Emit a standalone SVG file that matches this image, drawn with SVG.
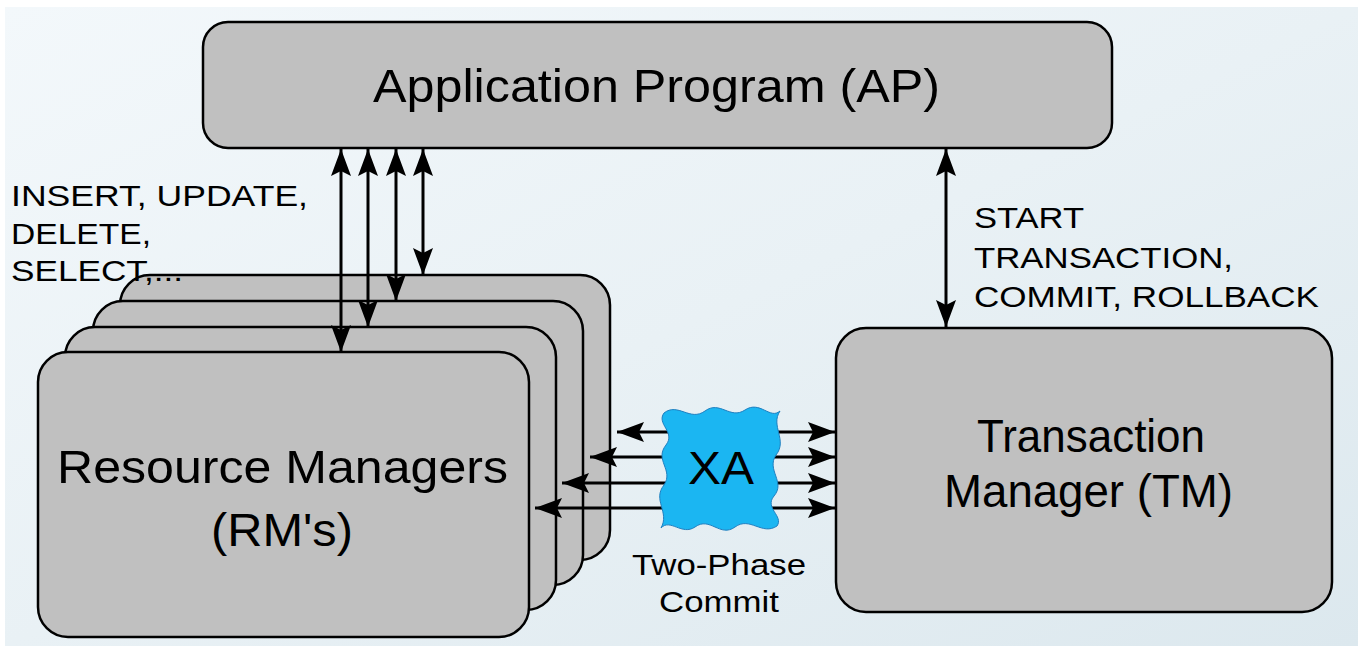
<svg xmlns="http://www.w3.org/2000/svg" width="1358" height="646" viewBox="0 0 1358 646">
<defs>
<linearGradient id="bg" x1="0" y1="0" x2="1" y2="1">
<stop offset="0" stop-color="#F3F8FB"/>
<stop offset="0.5" stop-color="#E9F1F5"/>
<stop offset="1" stop-color="#DCE8EE"/>
</linearGradient>
<marker id="ah" markerUnits="userSpaceOnUse" markerWidth="28" markerHeight="22" viewBox="0 0 28 22" refX="27" refY="11" orient="auto-start-reverse">
<path d="M0,1 L27,11 L0,21 L5,11 Z" fill="#000"/>
</marker>
<style>
.box{fill:#C0C0C0;stroke:#000;stroke-width:2.5}
.big{font-family:"Liberation Sans",Arial,sans-serif;font-size:46px;fill:#000}
.lbl{font-family:"Liberation Sans",Arial,sans-serif;font-size:30px;fill:#000}
.c{stroke:#000;stroke-width:3;fill:none;marker-start:url(#ah);marker-end:url(#ah)}
</style>
</defs>
<rect width="1358" height="646" fill="#FFFFFF"/>
<rect x="5" y="7" width="1353" height="639" fill="url(#bg)"/>

<g id="ap">
<rect class="box" x="203" y="22" width="909" height="126" rx="25"/>
<text class="big" x="373" y="102" textLength="567" lengthAdjust="spacingAndGlyphs">Application Program (AP)</text>
</g>

<g id="rm">
<rect class="box" x="120" y="275" width="490" height="285" rx="30"/>
<rect class="box" x="93" y="301" width="490" height="284" rx="30"/>
<rect class="box" x="65" y="327" width="491" height="283" rx="30"/>
<rect class="box" x="38" y="352" width="491" height="285" rx="30"/>
<text class="big" x="57" y="483" font-size="44" textLength="451" lengthAdjust="spacingAndGlyphs">Resource Managers</text>
<text class="big" x="211" y="546" font-size="44" textLength="142" lengthAdjust="spacingAndGlyphs">(RM's)</text>
</g>

<g id="tm">
<rect class="box" x="836" y="328" width="496" height="284" rx="30"/>
<text class="big" x="977" y="452" textLength="228" lengthAdjust="spacingAndGlyphs">Transaction</text>
<text class="big" x="944" y="507" textLength="289" lengthAdjust="spacingAndGlyphs">Manager (TM)</text>
</g>

<g id="labels">
<text class="lbl" x="11" y="206" textLength="297" lengthAdjust="spacingAndGlyphs">INSERT, UPDATE,</text>
<text class="lbl" x="11" y="244" textLength="140" lengthAdjust="spacingAndGlyphs">DELETE,</text>
<text class="lbl" x="11" y="281" textLength="172" lengthAdjust="spacingAndGlyphs">SELECT,...</text>
<text class="lbl" x="974" y="228" textLength="110" lengthAdjust="spacingAndGlyphs">START</text>
<text class="lbl" x="974" y="268" textLength="259" lengthAdjust="spacingAndGlyphs">TRANSACTION,</text>
<text class="lbl" x="974" y="307" textLength="345" lengthAdjust="spacingAndGlyphs">COMMIT, ROLLBACK</text>
<text class="lbl" x="632" y="575" textLength="174" lengthAdjust="spacingAndGlyphs">Two-Phase</text>
<text class="lbl" x="659" y="612" textLength="120" lengthAdjust="spacingAndGlyphs">Commit</text>
</g>

<g id="connectors">
<line class="c" x1="341" y1="149" x2="341" y2="352"/>
<line class="c" x1="368" y1="149" x2="368" y2="327"/>
<line class="c" x1="396" y1="149" x2="396" y2="301"/>
<line class="c" x1="423" y1="149" x2="423" y2="275"/>
<line class="c" x1="946" y1="149" x2="946" y2="327"/>
<line class="c" x1="617" y1="432" x2="835" y2="432"/>
<line class="c" x1="590" y1="457" x2="835" y2="457"/>
<line class="c" x1="562" y1="483" x2="835" y2="483"/>
<line class="c" x1="535" y1="508" x2="835" y2="508"/>
</g>

<g id="xa">
<path d="M664,413 C678,402 690,422 705,411 C720,400 730,420 745,410 C760,400 770,420 780,411 C770,426 788,440 776,455 C766,470 786,482 774,496 C764,508 784,516 777,526 C762,536 750,516 735,527 C720,538 710,516 695,527 C682,536 670,518 661,528 C670,512 652,500 664,485 C674,470 654,460 666,445 C676,432 656,424 664,413 Z" fill="#1BB6F2" stroke="#1E7FC0" stroke-width="1"/>
<text class="big" x="688" y="484" font-size="44" textLength="66" lengthAdjust="spacingAndGlyphs">XA</text>
</g>
</svg>
